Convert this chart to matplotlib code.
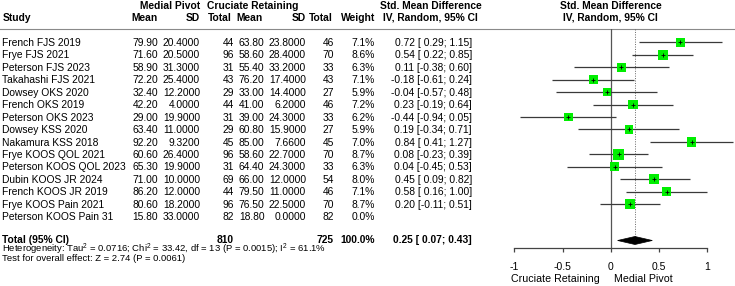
import matplotlib
matplotlib.use("Agg")
import matplotlib.pyplot as plt
from matplotlib.patches import Polygon
import numpy as np

plt.rcParams['font.family'] = ['Liberation Sans', 'DejaVu Sans']
plt.rcParams['mathtext.fontset'] = 'custom'
plt.rcParams['mathtext.rm'] = 'Liberation Sans'
plt.rcParams['mathtext.it'] = 'Liberation Sans:italic'
plt.rcParams['mathtext.bf'] = 'Liberation Sans:bold'

# ---------------- data ----------------
studies = ["French FJS 2019", "Frye FJS 2021", "Peterson FJS 2023", "Takahashi FJS 2021",
           "Dowsey OKS 2020", "French OKS 2019", "Peterson OKS 2023", "Dowsey KSS 2020",
           "Nakamura KSS 2018", "Frye KOOS QOL 2021", "Peterson KOOS QOL 2023",
           "Dubin KOOS JR 2024", "French KOOS JR 2019", "Frye KOOS Pain 2021",
           "Peterson KOOS Pain 31"]
mp_mean = [79.90, 71.60, 58.90, 72.20, 32.40, 42.20, 29.00, 63.40, 92.20, 60.60, 65.30, 71.00, 86.20, 80.60, 15.80]
mp_sd = [20.4, 20.5, 31.3, 25.4, 12.2, 4.0, 19.9, 11.0, 9.32, 26.4, 19.9, 10.0, 12.0, 18.2, 33.0]
mp_n = [44, 96, 31, 43, 29, 44, 31, 29, 45, 96, 31, 69, 44, 96, 82]
cr_mean = [63.80, 58.60, 55.40, 76.20, 33.00, 41.00, 39.00, 60.80, 85.00, 58.60, 64.40, 66.00, 79.50, 76.50, 18.80]
cr_sd = [23.8, 28.4, 33.2, 17.4, 14.4, 6.2, 24.3, 15.9, 7.66, 22.7, 24.3, 12.0, 11.0, 22.5, 0.0]
cr_n = [46, 70, 33, 43, 27, 46, 33, 27, 45, 70, 33, 54, 46, 70, 82]
weight = [7.1, 8.6, 6.3, 7.1, 5.9, 7.2, 6.2, 5.9, 7.0, 8.7, 6.3, 8.0, 7.1, 8.7, 0.0]
smd = [0.72, 0.54, 0.11, -0.18, -0.04, 0.23, -0.44, 0.19, 0.84, 0.08, 0.04, 0.45, 0.58, 0.20, None]
ci_lo = [0.29, 0.22, -0.38, -0.61, -0.57, -0.19, -0.94, -0.34, 0.41, -0.23, -0.45, 0.09, 0.16, -0.11, None]
ci_hi = [1.15, 0.85, 0.60, 0.24, 0.48, 0.64, 0.05, 0.71, 1.27, 0.39, 0.53, 0.82, 1.00, 0.51, None]

total_mp_n = 810
total_cr_n = 725
total_weight = 100.0
total_smd, total_lo, total_hi = 0.25, 0.07, 0.43
het_text = ("Heterogeneity: Tau$^2$ = 0.0716; Chi$^2$ = 33.42, df = 13 (P = 0.0015); "
            "I$^2$ = 61.1%")
test_text = "Test for overall effect: Z = 2.74 (P = 0.0061)"
xticks = [-1, -0.5, 0, 0.5, 1]
xticklabels = ["-1", "-0.5", "0", "0.5", "1"]
left_label = "Cruciate Retaining"
right_label = "Medial Pivot"

# ---------------- layout ----------------
W, H = 735, 286
fig = plt.figure(figsize=(W / 100, H / 100), dpi=100)
tab = fig.add_axes([0, 0, 1, 1])
tab.set_xlim(0, W)
tab.set_ylim(H, 0)
tab.axis('off')

FS = 7.4   # pt
FS_S = 6.8

def T(x, y, s, ha='left', bold=False, size=FS):
    px = size * 100 / 72
    tab.text(x, y + 0.36 * px, s, ha=ha, va='baseline', fontsize=size,
             fontweight='bold' if bold else 'normal', color='black')

row0, dy = 42.3, 12.45
rows = [row0 + dy * i for i in range(len(studies))]
total_y = 239.0

# column right edges
c_mpm, c_mpsd, c_mpn = 158, 200, 234
c_crm, c_crsd, c_crn = 264.5, 306, 334
c_w, c_ci = 375, 472

# headers
T(170, 5, "Medial Pivot", ha='center', bold=True)
T(253, 5, "Cruciate Retaining", ha='center', bold=True)
T(431, 5, "Std. Mean Difference", ha='center', bold=True)
T(2.5, 17, "Study", bold=True)
T(c_mpm, 17, "Mean", ha='right', bold=True)
T(c_mpsd, 17, "SD", ha='right', bold=True)
T(c_mpn - 2, 17, "Total", ha='right', bold=True)
T(c_crm - 1.5, 17, "Mean", ha='right', bold=True)
T(c_crsd, 17, "SD", ha='right', bold=True)
T(c_crn - 1, 17, "Total", ha='right', bold=True)
T(c_w, 17, "Weight", ha='right', bold=True)
T(430, 17, "IV, Random, 95% CI", ha='center', bold=True)
T(610.5, 5, "Std. Mean Difference", ha='center', bold=True)
T(610.5, 17, "IV, Random, 95% CI", ha='center', bold=True)
tab.plot([0, W], [29, 29], color='#8a8a8a', lw=0.8)

for i, y in enumerate(rows):
    T(2.5, y, studies[i])
    T(c_mpm, y, f"{mp_mean[i]:.2f}", ha='right')
    T(c_mpsd, y, f"{mp_sd[i]:.4f}", ha='right')
    T(c_mpn, y, f"{mp_n[i]}", ha='right')
    T(c_crm, y, f"{cr_mean[i]:.2f}", ha='right')
    T(c_crsd, y, f"{cr_sd[i]:.4f}", ha='right')
    T(c_crn, y, f"{cr_n[i]}", ha='right')
    T(c_w, y, f"{weight[i]:.1f}%", ha='right')
    if smd[i] is not None:
        T(c_ci, y, f"{smd[i]:.2f} [{ci_lo[i]:5.2f}; {ci_hi[i]:.2f}]", ha='right')

T(2.5, total_y, "Total (95% CI)", bold=True)
T(c_mpn, total_y, f"{total_mp_n}", ha='right', bold=True)
T(c_crn, total_y, f"{total_cr_n}", ha='right', bold=True)
T(c_w, total_y, f"{total_weight:.1f}%", ha='right', bold=True)
T(c_ci, total_y, f"{total_smd:.2f} [{total_lo:5.2f}; {total_hi:.2f}]", ha='right', bold=True)
T(2.5, 248.9, het_text, size=FS_S)
T(2.5, 257.5, test_text, size=FS_S)

# ---------------- forest panel ----------------
x_m1, x_p1 = 514.4, 707.3
y_top, y_bot = 29, 247.7
ax = fig.add_axes([x_m1 / W, 1 - y_bot / H, (x_p1 - x_m1) / W, (y_bot - y_top) / H])
ax.patch.set_alpha(0)
ax.set_xlim(-1, 1)
ax.set_ylim(y_bot, y_top)
for s in ['top', 'right', 'left']:
    ax.spines[s].set_visible(False)
ax.spines['bottom'].set_color('#444444')
ax.spines['bottom'].set_linewidth(0.9)
ax.set_yticks([])
ax.set_xticks(xticks)
ax.set_xticklabels(xticklabels)
ax.tick_params(axis='x', direction='out', length=3.2, width=0.9, color='#444444',
               labelsize=7.5, pad=7)

ax.axvline(0, color='#555555', lw=0.9, zorder=1)
ax.vlines(total_smd, y_top, total_y, colors='#666666', linestyles=(0, (1, 1.5)), lw=0.7, zorder=1)

valid = [i for i in range(len(studies)) if smd[i] is not None]
ys = [rows[i] for i in valid]
ax.hlines(ys, [ci_lo[i] for i in valid], [ci_hi[i] for i in valid],
          colors='#3a3a3a', lw=0.9, zorder=2, clip_on=False)
side_pt = [3.5 * np.sqrt(weight[i]) * 0.72 for i in valid]
ax.scatter([smd[i] for i in valid], ys, s=[p ** 2 for p in side_pt], marker='s',
           color='#00EE00', linewidths=0, zorder=3, clip_on=False)
ax.scatter([smd[i] for i in valid], ys, s=9, marker='+', color='black',
           linewidths=0.6, zorder=4, clip_on=False)

diamond = Polygon([(total_lo, total_y + 1.5), (total_smd, total_y - 2.5),
                   (total_hi, total_y + 1.5), (total_smd, total_y + 5.5)],
                  closed=True, facecolor='black', edgecolor='black', lw=0.5,
                  zorder=4, clip_on=False)
ax.add_patch(diamond)

T(555.5, 278, left_label, ha='center', size=7.7)
T(643, 278, right_label, ha='center', size=7.7)

fig.savefig("out.png", dpi=100)
